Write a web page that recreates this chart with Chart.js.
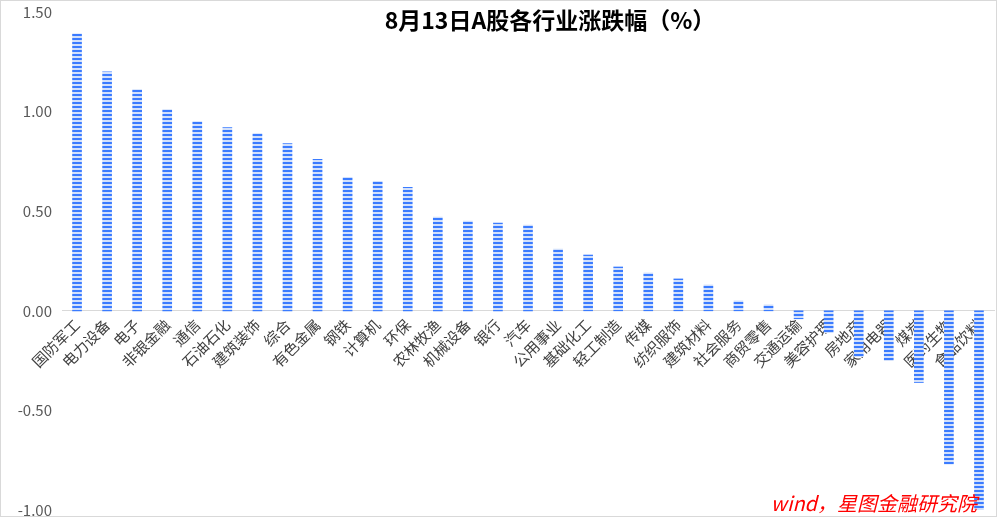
<!DOCTYPE html>
<html>
<head>
<meta charset="utf-8">
<script src="https://cdn.jsdelivr.net/npm/chart.js@4/dist/chart.umd.min.js"></script>
<style>
  html, body { margin: 0; padding: 0; background: #fff; }
  #wrap { width: 997px; height: 517px; }
</style>
</head>
<body>
<div id="wrap"><canvas id="industryChart" width="997" height="517"></canvas></div>
<script>
// 8月13日 A股各行业涨跌幅
var industries = ["国防军工", "电力设备", "电子", "非银金融", "通信", "石油石化", "建筑装饰", "综合",
    "有色金属", "钢铁", "计算机", "环保", "农林牧渔", "机械设备", "银行", "汽车", "公用事业",
    "基础化工", "轻工制造", "传媒", "纺织服饰", "建筑材料", "社会服务", "商贸零售", "交通运输",
    "美容护理", "房地产", "家用电器", "煤炭", "医药生物", "食品饮料"];
var changes = [1.39, 1.20, 1.11, 1.01, 0.95, 0.92, 0.89, 0.84, 0.76, 0.67, 0.65, 0.62, 0.47, 0.45,
    0.44, 0.43, 0.31, 0.28, 0.22, 0.19, 0.16, 0.13, 0.05, 0.03, -0.04, -0.11, -0.23, -0.25,
    -0.36, -0.77, -1.00];
var yTicks = [1.5, 1.0, 0.5, 0.0, -0.5, -1.0];
var chartTitle = "8月13日A股各行业涨跌幅（%）";
var sourceNote = "wind，星图金融研究院";

// striped fill like the original
function stripes() {
    var c = document.createElement("canvas");
    c.width = 4;
    c.height = 4;
    var g = c.getContext("2d");
    g.fillStyle = "#d2e0fb";
    g.fillRect(0, 0, 4, 4);
    g.fillStyle = "#3a7bff";
    g.fillRect(0, 2, 4, 2);
    return g.createPattern(c, "repeat");
}

var ctx = document.getElementById("industryChart").getContext("2d");

var extras = {
    id: "extras",
    afterDraw: function (chart) {
        var c = chart.ctx;
        c.save();
        c.fillStyle = "#000";
        c.font = "bold 23px 'Noto Sans CJK SC', sans-serif";
        c.textAlign = "center";
        c.textBaseline = "middle";
        c.fillText(chartTitle, 550, 20);

        c.fillStyle = "#ff0000";
        c.font = "italic 20px 'Noto Sans CJK SC', sans-serif";
        c.textAlign = "right";
        c.fillText(sourceNote, 977, 503);

        c.strokeStyle = "#d9d9d9";
        c.lineWidth = 1;
        c.strokeRect(0.5, 0.5, 996, 516);
        c.restore();
    }
};

var industryChart = new Chart(ctx, {
    type: "bar",
    data: {
        labels: industries,
        datasets: [{
            data: changes,
            backgroundColor: stripes(),
            borderWidth: 0,
            barThickness: 9
        }]
    },
    options: {
        responsive: false,
        animation: false,
        devicePixelRatio: 1,
        layout: { padding: { top: 12, bottom: 7, right: 3, left: 0 } },
        plugins: {
            legend: { display: false },
            tooltip: { enabled: false }
        },
        scales: {
            x: {
                position: { y: 0 },
                z: 1,
                grid: { display: false, drawTicks: false },
                border: { color: "#d9d9d9", width: 1 },
                ticks: {
                    autoSkip: false,
                    minRotation: 45,
                    maxRotation: 45,
                    padding: 5,
                    color: "#404040",
                    font: { family: "'Noto Sans CJK SC', sans-serif", size: 15 }
                }
            },
            y: {
                min: -1,
                max: 1.5,
                afterBuildTicks: function (scale) {
                    scale.ticks = yTicks.map(function (v) { return { value: v }; });
                },
                afterFit: function (scale) {
                    scale.width = 62;
                    scale.paddingTop = 0;
                    scale.paddingBottom = 0;
                },
                grid: { display: false, drawTicks: false },
                border: { display: false },
                ticks: {
                    padding: 10,
                    color: "#595959",
                    font: { family: "'Noto Sans CJK SC', sans-serif", size: 15 },
                    callback: function (v) { return Number(v).toFixed(2); }
                }
            }
        }
    },
    plugins: [extras]
});
</script>
</body>
</html>
